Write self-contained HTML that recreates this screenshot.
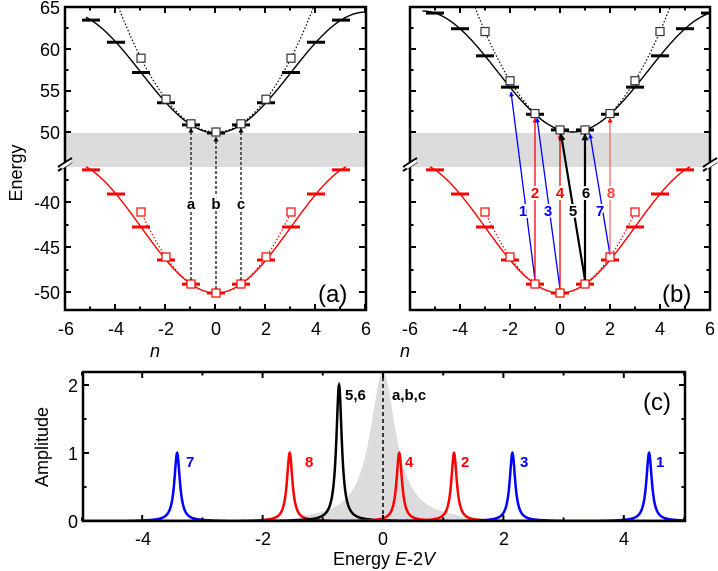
<!DOCTYPE html>
<html><head><meta charset="utf-8"><style>
html,body{margin:0;padding:0;background:#fff}
svg{display:block}
text{font-family:"Liberation Sans",Arial,sans-serif}
</style></head><body>
<svg id="s" width="718" height="571" viewBox="0 0 718 571" xmlns="http://www.w3.org/2000/svg">
<defs>
<marker id="mk" viewBox="0 0 10 10" refX="9" refY="5" markerWidth="5" markerHeight="6" orient="auto" markerUnits="userSpaceOnUse"><path d="M0,0L10,5L0,10z" fill="#000"/></marker>
<marker id="mr" viewBox="0 0 10 10" refX="9" refY="5" markerWidth="5" markerHeight="6" orient="auto" markerUnits="userSpaceOnUse"><path d="M0,0L10,5L0,10z" fill="#f00"/></marker>
<marker id="mb" viewBox="0 0 10 10" refX="9" refY="5" markerWidth="5" markerHeight="6" orient="auto" markerUnits="userSpaceOnUse"><path d="M0,0L10,5L0,10z" fill="#00f"/></marker>
<marker id="mk2" viewBox="0 0 10 10" refX="9" refY="5" markerWidth="7" markerHeight="7" orient="auto" markerUnits="userSpaceOnUse"><path d="M0,0L10,5L0,10z" fill="#000"/></marker>
<clipPath id="ca"><rect x="65" y="7" width="301" height="303"/></clipPath>
<clipPath id="cb"><rect x="410" y="7" width="300" height="303"/></clipPath>
<clipPath id="cc"><rect x="83" y="372" width="602" height="149"/></clipPath>
</defs>
<rect x="66" y="133" width="300" height="34" fill="#dcdcdc"/>
<rect x="411" y="133" width="299" height="34" fill="#dcdcdc"/>
<g id="dyn"></g>
<rect x="65" y="7" width="301" height="303" fill="none" stroke="#000" stroke-width="2.5"/>
<rect x="410" y="7" width="300" height="303" fill="none" stroke="#000" stroke-width="2.5"/>
<rect x="83" y="372" width="602" height="149" fill="none" stroke="#000" stroke-width="2.5"/>
<g stroke="#000" stroke-width="2">
<line x1="58" y1="167" x2="72" y2="158"/><line x1="58" y1="171" x2="72" y2="162"/>
<line x1="403" y1="167" x2="417" y2="158"/><line x1="403" y1="171" x2="417" y2="162"/>
<line x1="703" y1="167" x2="717" y2="158"/><line x1="703" y1="171" x2="717" y2="162"/>
</g>
<rect x="60" y="163" width="12" height="3" fill="#fff" transform="rotate(-33 66 164)"/>
<rect x="405" y="163" width="12" height="3" fill="#fff" transform="rotate(-33 411 164)"/>
<rect x="705" y="163" width="12" height="3" fill="#fff" transform="rotate(-33 711 164)"/>
<g font-size="18" text-anchor="end">
<text x="60" y="14">65</text><text x="60" y="56">60</text><text x="60" y="97">55</text><text x="60" y="139">50</text>
<text x="60" y="209">-40</text><text x="60" y="254">-45</text><text x="60" y="299">-50</text>
<text x="78" y="392">2</text><text x="78" y="460">1</text><text x="78" y="528">0</text>
</g>
<text font-size="18" transform="translate(22 173) rotate(-90)" text-anchor="middle">Energy</text>
<text font-size="18" transform="translate(48 447) rotate(-90)" text-anchor="middle">Amplitude</text>
<g font-size="18" text-anchor="middle">
<text x="66" y="335">-6</text><text x="116" y="335">-4</text><text x="166" y="335">-2</text><text x="216" y="335">0</text><text x="266" y="335">2</text><text x="316" y="335">4</text><text x="366" y="335">6</text>
<text x="410" y="335">-6</text><text x="460" y="335">-4</text><text x="510" y="335">-2</text><text x="560" y="335">0</text><text x="610" y="335">2</text><text x="660" y="335">4</text><text x="710" y="335">6</text>
<text x="143" y="545">-4</text><text x="263" y="545">-2</text><text x="383" y="545">0</text><text x="504" y="545">2</text><text x="624" y="545">4</text>
<text x="155" y="357" font-style="italic">n</text><text x="405" y="357" font-style="italic">n</text>
</g>
<text x="384" y="565" font-size="18" text-anchor="middle">Energy <tspan font-style="italic">E</tspan>-2<tspan font-style="italic">V</tspan></text>
<g font-size="24">
<text x="318" y="302">(a)</text><text x="662" y="302">(b)</text><text x="643" y="410">(c)</text>
</g>
<g font-size="15" font-weight="bold" text-anchor="middle" stroke="#fff" stroke-width="4" paint-order="stroke">
<text x="191" y="209">a</text><text x="216" y="209">b</text><text x="241" y="209">c</text>
<text x="523" y="216" fill="#00f">1</text><text x="535" y="198" fill="#f00">2</text><text x="548" y="216" fill="#00f">3</text><text x="560" y="198" fill="#f00">4</text>
<text x="573" y="216" fill="#000">5</text><text x="586" y="198" fill="#000">6</text><text x="600" y="216" fill="#00f">7</text><text x="611" y="198" fill="#f44">8</text>
</g>
<g font-size="15" font-weight="bold">
<text x="186" y="467" fill="#00f">7</text><text x="305" y="467" fill="#f00">8</text><text x="405" y="467" fill="#f00">4</text><text x="461" y="467" fill="#f00">2</text><text x="520" y="467" fill="#00f">3</text><text x="656" y="467" fill="#00f">1</text>
<text x="345" y="400">5,6</text><text x="392" y="400">a,b,c</text>
</g>
</svg>
<script>
var NS="http://www.w3.org/2000/svg",G=document.getElementById("dyn");
function el(t,a,p){var e=document.createElementNS(NS,t);for(var k in a)e.setAttribute(k,a[k]);(p||G).appendChild(e);return e;}
function path(f,a,b,st,clip,N){N=N||200;var d="";for(var i=0;i<=N;i++){var n=a+(b-a)*i/N;var p=f(n);d+=(i?"L":"M")+p[0].toFixed(2)+","+p[1].toFixed(2);}st.d=d;st.fill=st.fill||"none";if(clip)st["clip-path"]="url(#"+clip+")";return el("path",st);}
function C(n){return (1-Math.cos(Math.PI*n/6))/2;}
(function(){var d="M83,521";for(var i=0;i<=1000;i++){var x=-5+10*i/1000;var y=2.2*0.067/(0.067+x*x);if(Math.abs(x)>1.2)y*=Math.exp(-(Math.abs(x)-1.2)*2);d+="L"+(383+x*60.2).toFixed(2)+","+(521-y*68).toFixed(2);}d+="L685,521Z";el("path",{d:d,fill:"#dcdcdc","clip-path":"url(#cc)"});})();
el("line",{x1:383,y1:521,x2:383,y2:372,stroke:"#000","stroke-width":1.5,"stroke-dasharray":"4,3"});
[[-3.42,1,"#00f"],[-1.55,1,"#f00"],[-0.73,2,"#000"],[0.27,1,"#f00"],[1.18,1,"#f00"],[2.15,1,"#00f"],[4.42,1,"#00f"]].forEach(function(p){
 path(function(x){var g=0.055;return [383+x*60.2,521-68*p[1]*g*g/(g*g+(x-p[0])*(x-p[0]))];},-5,5,{stroke:p[2],"stroke-width":2.5},"cc",3000);});
function tk(x1,y1,x2,y2){el("line",{x1:x1,y1:y1,x2:x2,y2:y2,stroke:"#000","stroke-width":2});}
[65,410].forEach(function(L){for(var n=-6;n<=6;n++){var x=L+25*(n+6),l=(n%2==0)?6:3.5;tk(x,310,x,310-l);tk(x,7,x,7+l);}
 [7,49,91,132].forEach(function(y){tk(L,y,L+6,y);tk(L+300,y,L+294,y);});[28,70,111].forEach(function(y){tk(L,y,L+3.5,y);tk(L+300,y,L+296.5,y);});
 [202,247,292].forEach(function(y){tk(L,y,L+6,y);tk(L+300,y,L+294,y);});[180,225,270].forEach(function(y){tk(L,y,L+3.5,y);tk(L+300,y,L+296.5,y);});});
for(var e=-5;e<=5;e++){var x=383+e*60.2,l=(e%2==0)?6:3.5;tk(x,521,x,521-l);tk(x,372,x,372+l);}
[385,453].forEach(function(y){tk(83,y,89,y);tk(685,y,679,y);});[487,419].forEach(function(y){tk(83,y,86.5,y);tk(685,y,681.5,y);});
[[216,"ca"],[560,"cb"]].forEach(function(P,pi){var X0=P[0],cl=P[1];
 var sh=pi?0.5:0,c0=pi?132:133;
 path(function(n){return [X0+25*n,c0-121*C(n-sh)];},pi?-5.5:-5.2,6,{stroke:"#000","stroke-width":1.4},cl);
 path(function(n){return [X0+25*n,132-8.2*(n-sh)*(n-sh)];},sh-4,sh+4,{stroke:"#000","stroke-width":1.2,"stroke-dasharray":"1.5,2"},cl);
 path(function(n){return [X0+25*n,293-132*C(n)];},-5.2,5.2,{stroke:"#f00","stroke-width":1.4},cl);
 path(function(n){return [X0+25*n,293-9*n*n];},-3,3,{stroke:"#f00","stroke-width":1.2,"stroke-dasharray":"1.5,2"},cl);
 for(var n=-5;n<=5;n++){var y=293-132*C(n);el("rect",{x:X0+25*n-9,y:y-1.5,width:18,height:3,fill:"#f00"});}
 var ns=pi?[-5,-4,-3,-2,-1,0,1,2,3,4,5,6]:[-5,-4,-3,-2,-1,0,1,2,3,4,5];
 ns.forEach(function(n){var y=c0-121*C(n-sh);var x=X0+25*n;el("rect",{x:x-9,y:y-1.5,width:(n==6?10:18),height:3,fill:"#000"});});
 (pi?[-3,-2,-1,0,1,2,3,4]:[-3,-2,-1,0,1,2,3]).forEach(function(n){var y=132-8.2*(n-sh)*(n-sh);el("rect",{x:X0+25*n-4,y:y-4,width:8,height:8,fill:"#fff",stroke:"#333","stroke-width":1.2});});
 [-3,-2,-1,0,1,2,3].forEach(function(n){var y=293-9*n*n;el("rect",{x:X0+25*n-4,y:y-4,width:8,height:8,fill:"#fff",stroke:"#f00","stroke-width":1.2});});
});
[[191,284,124],[216,293,133],[241,284,124]].forEach(function(a){el("line",{x1:a[0],y1:a[1]-4,x2:a[0],y2:a[2]+4,stroke:"#000","stroke-width":1.2,"stroke-dasharray":"3,2","marker-end":"url(#mk)"});});
[[535,280,511,92,"#00f","mb",1.3],[535,280,535,118,"#f00","mr",1.3],[560,289,537,118,"#00f","mb",1.3],[560,289,560,134,"#f00","mr",1.3],
 [585,280,561,134,"#000","mk2",2.2],[585,280,585,134,"#000","mk2",2.2],[610,255,590,134,"#00f","mb",1.3],[610,255,610,118,"#f66","mr",1.3]].forEach(function(a){
 el("line",{x1:a[0],y1:a[1],x2:a[2],y2:a[3],stroke:a[4],"stroke-width":a[6],"marker-end":"url(#"+a[5]+")"});});
</script>
</body></html>
